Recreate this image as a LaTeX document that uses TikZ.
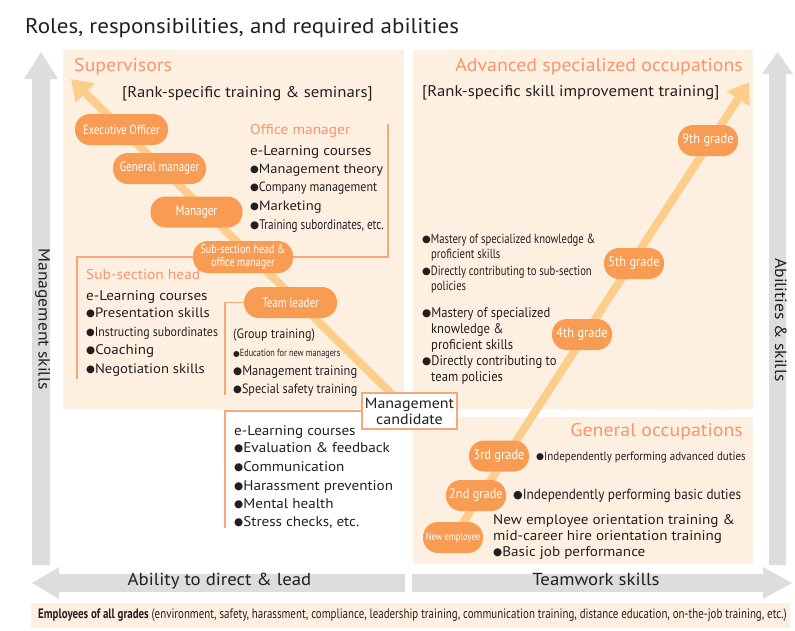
\documentclass[tikz,border=0pt]{standalone}
\usepackage{fontspec}
\usepackage{graphicx}
\setmainfont[FakeStretch=1.08]{PT Sans}
\newfontfamily\cond[FakeStretch=0.8]{PT Sans}
\newfontfamily\condm[FakeStretch=0.9]{PT Sans}
\newfontfamily\dejavu{DejaVu Sans}
\usetikzlibrary{arrows.meta}
\definecolor{peach}{HTML}{FEF0E1}
\definecolor{pillor}{HTML}{F89C53}
\definecolor{lightor}{HTML}{FDCD8C}
\definecolor{salmon}{HTML}{F5966E}
\definecolor{brk}{HTML}{F6A878}
\definecolor{grayar}{HTML}{DCDDDF}
\definecolor{ink}{HTML}{231F20}
\newcommand\bul{\raisebox{0.04em}{\scalebox{0.75}{\dejavu ●}}}
\newcommand\fs[1]{\fontsize{#1}{#1}\selectfont}
\begin{document}
\begin{tikzpicture}[x=1pt,y=-1pt,
  every node/.style={inner sep=0pt, text=ink},
  lt/.style={anchor=mid west, font=\fs{14}},
  ltc/.style={anchor=mid west, font=\cond\fs{14}},
  head/.style={anchor=mid west, font=\fs{18.4}, text=salmon},
  subhead/.style={anchor=mid west, font=\fs{14.3}, text=salmon},
  pill/.style={fill=pillor, rounded corners=15pt, minimum height=31pt, minimum width=#1, text=white, font=\cond\fs{13}, align=center},
  gpill/.style={pill=60pt, font=\condm\fs{13.8}},
  bracket/.style={draw=brk, line width=1.1pt},
  growline/.style={draw=lightor, line width=8pt, -{Triangle[width=26pt,length=20pt]}},
  grayarrow/.style={fill=grayar}
]
\useasboundingbox (0,0) rectangle (795,630);

% title
\node[anchor=mid west, font=\fs{21.3}] (title) at (25,31) {Roles, responsibilities, and required abilities};

% panels
\fill[peach] (63,50) rectangle (404,409);
\fill[peach] (413,50) rectangle (753,409);
\fill[peach] (413,417) rectangle (753,564);
\fill[peach] (31,603) rectangle (790,628);

% gray arrows
\fill[grayarrow] (32,565) -- (32,79) -- (24,79) -- (41,52) -- (58,79) -- (50,79) -- (50,565) -- cycle;
\fill[grayarrow] (769,565) -- (769,74) -- (762,74) -- (777.5,52) -- (793,74) -- (786,74) -- (786,565) -- cycle;
\fill[grayarrow] (405,574) -- (59,574) -- (59,567) -- (32,583) -- (59,599) -- (59,592) -- (405,592) -- cycle;
\fill[grayarrow] (412,574) -- (763,574) -- (763,567) -- (792,583) -- (763,599) -- (763,592) -- (412,592) -- cycle;

\node[font=\fs{17.4}, anchor=mid] (lblL) at (219.5,583) {Ability to direct \& lead};
\node[font=\fs{17.4}, anchor=mid] (lblR) at (596,583) {Teamwork skills};
\node[font=\fs{16.3}, anchor=mid, rotate=-90] (lblV) at (41,319) {Management skills};
\node[font=\fs{16.3}, anchor=mid, rotate=-90] (lblA) at (777.5,320) {Abilities \& skills};

% growth arrows
\coordinate (supstart) at (400,402);
\coordinate (suptip) at (71,79);
\draw[growline] (supstart) -- (suptip);
\coordinate (occstart) at (446,549);
\coordinate (occtip) at (749,82);
\draw[growline] (occstart) -- (occtip);

% pills supervisors
\node[pill=93pt, font=\cond\fs{13.3}] (exec) at (121.5,129.5) {Executive Officer};
\node[pill=93pt, font=\cond\fs{13.6}] (gm) at (159.5,168.5) {General manager};
\node[pill=92pt, font=\cond\fs{14}] (mgr) at (196.5,212) {Manager};
\node[pill=100pt, minimum height=32pt, font=\cond\fontsize{12.5}{13}\selectfont] (sub) at (243,257) {Sub-section head \&\\office manager};
\node[pill=93pt, font=\cond\fs{13.6}] (tl) at (290.5,302.5) {Team leader};

% candidate box
\node[draw=brk, line width=1.1pt, fill=white, minimum width=95pt, minimum height=36pt, font=\fontsize{14.8}{16}\selectfont, align=center] (cand) at (409.5,411) {Management\\candidate};

% brackets
\draw[bracket] (sub.east) -- (388,257) -- (388,124);
\draw[bracket] (sub.west) -- (77,257) -- (77,379);
\draw[bracket] (tl.west) -- (225,302.5) -- (225,395);
\draw[bracket] (cand.west) -- (225,411) -- (225,528);

% pills occupations
\node[gpill] (g9) at (708,140.5) {9th grade};
\node[gpill] (g5) at (634,263.5) {5th grade};
\node[gpill] (g4) at (582,334.5) {4th grade};
\node[gpill] (g3) at (499,456) {3rd grade};
\node[gpill] (g2) at (476,495.5) {2nd grade};
\node[pill=60pt, font=\cond\fs{10.8}] (g1) at (453,537.5) {New employee};

% supervisors texts
\node[head] (supT) at (74,69) {Supervisors};
\node[lt, font=\fs{15.5}] (supR) at (122,94.5) {[Rank-specific training \& seminars]};
\node[subhead] (omT) at (250,131.5) {Office manager};
\node[lt] (om0) at (250,152.5) {e-Learning courses};
\node[lt, font=\fs{13.4}] (om1) at (250,171) {\bul Management theory};
\node[ltc, font=\condm\fs{13.4}] (om2) at (250,189) {\bul Company management};
\node[lt, font=\fs{13.5}] (om3) at (250,207.5) {\bul Marketing};
\node[ltc, font=\cond\fs{13.9}] (om4) at (250,227) {\bul Training subordinates, etc.};

\node[subhead] (shT) at (86,276.5) {Sub-section head};
\node[lt] (sh0) at (86,297.5) {e-Learning courses};
\node[lt, font=\fs{13.6}] (sh1) at (86,314.5) {\bul Presentation skills};
\node[ltc, font=\condm\fs{13.2}] (sh2) at (86,333.5) {\bul Instructing subordinates};
\node[lt, font=\fs{13.9}] (sh3) at (86,351.5) {\bul Coaching};
\node[lt, font=\fs{13.6}] (sh4) at (86,370.5) {\bul Negotiation skills};

\node[ltc, font=\condm\fs{13.5}] (tl0) at (233,336) {(Group training)};
\node[ltc, font=\cond\fs{10.3}] (tl1) at (233,354) {\bul Education for new managers};
\node[ltc, font=\condm\fs{13.9}] (tl2) at (233,372.5) {\bul Management training};
\node[ltc, font=\condm\fs{13.5}] (tl3) at (233,391) {\bul Special safety training};

\node[lt] (ca0) at (234,432.5) {e-Learning courses};
\node[lt] (ca1) at (234,450) {\bul Evaluation \& feedback};
\node[lt] (ca2) at (234,468.5) {\bul Communication};
\node[lt] (ca3) at (234,487.5) {\bul Harassment prevention};
\node[lt] (ca4) at (234,505.5) {\bul Mental health};
\node[lt] (ca5) at (234,523.5) {\bul Stress checks, etc.};

% right texts
\node[head, anchor=mid east] (advT) at (743,68.5) {Advanced specialized occupations};
\node[lt, font=\fs{15.5}] (advR) at (422,94) {[Rank-specific skill improvement training]};
\node[ltc, font=\cond\fs{13.3}] (a1) at (422,241) {\bul Mastery of specialized knowledge \&};
\node[ltc, font=\cond\fs{13.3}] (a2) at (431,256) {proficient skills};
\node[ltc, font=\cond\fs{13.3}] (a3) at (422,272.5) {\bul Directly contributing to sub-section};
\node[ltc, font=\cond\fs{13.3}] (a4) at (431,288) {policies};
\node[ltc, font=\condm\fs{14}] (b1) at (422,314.5) {\bul Mastery of specialized};
\node[ltc, font=\condm\fs{14}] (b2) at (431,330.5) {knowledge \&};
\node[ltc, font=\condm\fs{14}] (b3) at (431,346.5) {proficient skills};
\node[ltc, font=\condm\fs{14}] (b4) at (422,362.5) {\bul Directly contributing to};
\node[ltc, font=\condm\fs{14}] (b5) at (431,378.5) {team policies};

\node[head, anchor=mid east] (genT) at (743,434) {General occupations};
\node[ltc, font=\condm\fs{12.2}] (c3) at (536,457.5) {\bul Independently performing advanced duties};
\node[ltc, font=\condm\fs{14.7}] (c2) at (513,497) {\bul Independently performing basic duties};
\node[lt] (c1a) at (493,521.5) {New employee orientation training \&};
\node[lt] (c1b) at (493,537.5) {mid-career hire orientation training};
\node[lt] (c1c) at (493,553.5) {\bul Basic job performance};

% bottom strip
\node[anchor=mid west, font=\cond\fs{13.65}] (strip) at (38,616) {{\bfseries Employees of all grades} (environment, safety, harassment, compliance, leadership training, communication training, distance education, on-the-job training, etc.)};
\end{tikzpicture}
\end{document}
